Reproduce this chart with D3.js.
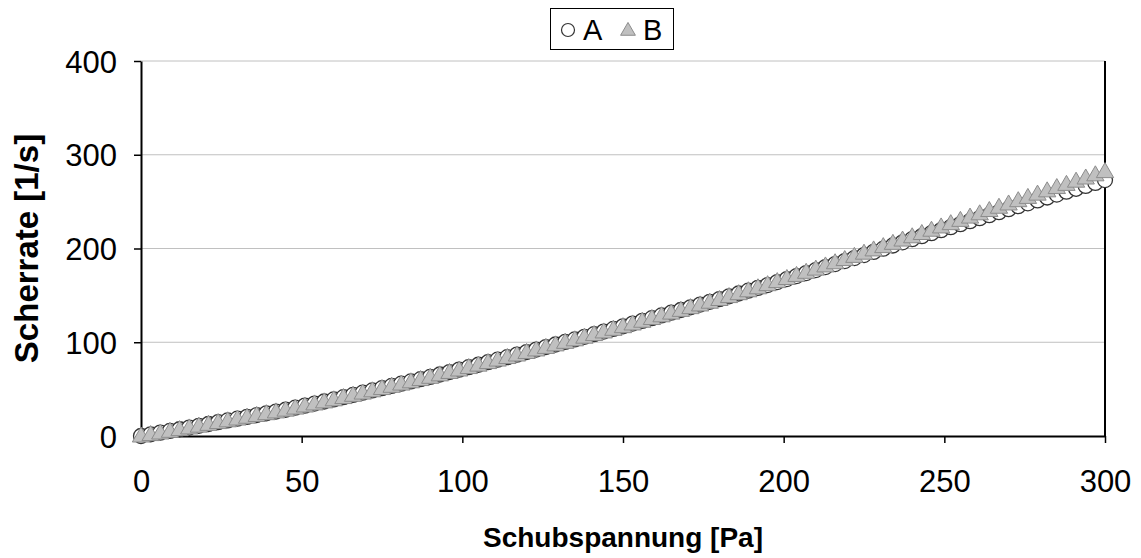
<!DOCTYPE html>
<html>
<head>
<meta charset="utf-8">
<script src="https://cdn.jsdelivr.net/npm/d3@7"></script>
<style>
  body { margin: 0; background: #fff; }
  text { font-family: "Liberation Sans", Arial, sans-serif; }
</style>
</head>
<body>
<svg id="chart"></svg>
<script>
// Schubspannung [Pa]
const stress = [
  0, 3, 6, 9, 12, 15, 18, 21, 24, 27, 30, 33, 36, 39, 42, 45, 48, 51, 54, 57,
  60, 63, 66, 69, 72, 75, 78, 81, 84, 87, 90, 93, 96, 99, 102, 105, 108, 111, 114, 117,
  120, 123, 126, 129, 132, 135, 138, 141, 144, 147, 150, 153, 156, 159, 162, 165, 168, 171, 174, 177,
  180, 183, 186, 189, 192, 195, 198, 201, 204, 207, 210, 213, 216, 219, 222, 225, 228, 231, 234, 237,
  240, 243, 246, 249, 252, 255, 258, 261, 264, 267, 270, 273, 276, 279, 282, 285, 288, 291, 294, 297,
  300
];

// Scherrate [1/s], sample A
const rateA = [
  0, 1.8, 3.6, 5.4, 7.2, 9.0, 10.9, 12.8, 14.7, 16.6, 18.5, 20.4, 22.3, 24.2, 26.1, 28.0,
  30.2, 32.4, 34.6, 36.8, 39.0, 41.4, 43.8, 46.2, 48.6, 51.0, 53.4, 55.8, 58.2, 60.6, 63.0,
  65.6, 68.2, 70.8, 73.4, 76.0, 78.7, 81.4, 84.1, 86.8, 89.5, 92.2, 94.9, 97.6, 100.3, 103.0,
  105.8, 108.6, 111.4, 114.2, 117.0, 119.9, 122.8, 125.7, 128.6, 131.5, 134.4, 137.3, 140.2, 143.1, 146.0,
  149.0, 152.0, 155.0, 158.0, 161.0, 164.2, 167.4, 170.6, 173.8, 177.0, 180.2, 183.4, 186.6, 189.8, 193.0,
  196.4, 199.8, 203.2, 206.6, 210.0, 213.2, 216.4, 219.6, 222.8, 226.0, 229.2, 232.4, 235.6, 238.8, 242.0,
  245.1, 248.2, 251.3, 254.4, 257.5, 260.6, 263.7, 266.8, 269.9, 273.0
];

// Scherrate [1/s], sample B
const rateB = [
  0, 1.5, 3.2, 5.0, 6.8, 8.6, 10.5, 12.4, 14.3, 16.2, 18.1, 20.0, 21.9, 23.8, 25.7, 27.6,
  29.8, 32.0, 34.2, 36.4, 38.6, 41.0, 43.4, 45.8, 48.2, 50.6, 53.0, 55.4, 57.8, 60.2, 62.6,
  65.2, 67.8, 70.4, 73.0, 75.6, 78.3, 81.0, 83.7, 86.4, 89.1, 91.8, 94.5, 97.2, 99.9, 102.6,
  105.4, 108.2, 111.0, 113.8, 116.6, 119.5, 122.4, 125.3, 128.2, 131.1, 134.0, 136.9, 139.8, 142.7,
  145.6, 148.7, 151.8, 154.9, 158.1, 161.4, 164.7, 168.0, 171.3, 174.6, 178.0,
  181.4, 184.8, 188.2, 191.6, 195.0, 198.5, 202.0, 205.5, 209.0, 212.5, 216.0, 219.5, 223.0, 226.5, 230.0,
  233.5, 237.0, 240.5, 244.0, 247.5, 251.0, 254.5, 258.0, 261.5, 265.0, 268.4, 271.8, 275.2, 278.6, 282.0
];

const xTicks = [0, 50, 100, 150, 200, 250, 300];
const yTicks = [0, 100, 200, 300, 400];
const seriesNames = ['A', 'B'];

const width = 1141, height = 558;
const margin = {top: 61, right: 36, bottom: 122, left: 141};
const innerW = width - margin.left - margin.right;
const innerH = height - margin.top - margin.bottom;

const svg = d3.select('#chart')
    .attr('width', width)
    .attr('height', height);

const chart = svg.append('g')
    .attr('transform', `translate(${margin.left}, ${margin.top})`);

const xscale = d3.scaleLinear().domain([0, 300]).range([0, innerW]);
const yscale = d3.scaleLinear().domain([0, 400]).range([innerH, 0]);

// gridlines
chart.append('g')
    .selectAll('line')
    .data(yTicks.filter(d => d > 0))
    .join('line')
    .attr('x1', 0)
    .attr('x2', innerW)
    .attr('y1', d => yscale(d))
    .attr('y2', d => yscale(d))
    .attr('stroke', '#c0c0c0')
    .attr('stroke-width', 1);

// right border
chart.append('line')
    .attr('x1', innerW).attr('x2', innerW)
    .attr('y1', 0).attr('y2', innerH)
    .attr('stroke', '#000')
    .attr('stroke-width', 2);

const xaxis = d3.axisBottom(xscale)
    .tickValues(xTicks)
    .tickSize(7)
    .tickPadding(27)
    .tickSizeOuter(0);

const yaxis = d3.axisLeft(yscale)
    .tickValues(yTicks)
    .tickSize(7)
    .tickPadding(17)
    .tickSizeOuter(0);

const xg = chart.append('g')
    .attr('transform', `translate(0, ${innerH})`)
    .call(xaxis);
const yg = chart.append('g').call(yaxis);

[xg, yg].forEach(g => {
    g.selectAll('path').attr('stroke', '#000').attr('stroke-width', 2);
    g.selectAll('line').attr('stroke', '#000').attr('stroke-width', 1.5);
    g.selectAll('text')
        .attr('fill', '#000')
        .style('font-size', '31px')
        .style('font-family', '"Liberation Sans", Arial, sans-serif');
});
yg.selectAll('text').attr('dy', '0.36em');

// axis titles
svg.append('text')
    .attr('x', margin.left + innerW / 2)
    .attr('y', 547)
    .attr('text-anchor', 'middle')
    .style('font-size', '28px')
    .style('font-weight', 'bold')
    .text('Schubspannung [Pa]');

svg.append('text')
    .attr('transform', 'rotate(-90)')
    .attr('x', -(margin.top + innerH / 2))
    .attr('y', 38)
    .attr('text-anchor', 'middle')
    .style('font-size', '33px')
    .style('font-weight', 'bold')
    .text('Scherrate [1/s]');

// markers
const dataA = stress.map((x, i) => ({x: x, y: rateA[i]}));
const dataB = stress.map((x, i) => ({x: x, y: rateB[i]}));

const marks = chart.append('g');

marks.selectAll('circle')
    .data(dataA)
    .join('circle')
    .attr('cx', d => xscale(d.x))
    .attr('cy', d => yscale(d.y))
    .attr('r', 7.5)
    .attr('fill', '#fff')
    .attr('stroke', '#333')
    .attr('stroke-width', 1.3);

const tri = d3.symbol().type(d3.symbolTriangle).size(130);

marks.selectAll('path.tri')
    .data(dataB)
    .join('path')
    .attr('class', 'tri')
    .attr('d', tri)
    .attr('transform', d => `translate(${xscale(d.x)}, ${yscale(d.y) + 1})`)
    .attr('fill', '#c0c0c0')
    .attr('stroke', '#8c8c8c')
    .attr('stroke-width', 1);

// legend
const legend = svg.append('g');
legend.append('rect')
    .attr('x', 550.5).attr('y', 8.5)
    .attr('width', 123).attr('height', 41)
    .attr('fill', '#fff')
    .attr('stroke', '#000')
    .attr('stroke-width', 1);

legend.append('circle')
    .attr('cx', 568).attr('cy', 30)
    .attr('r', 6.5)
    .attr('fill', '#fff')
    .attr('stroke', '#333')
    .attr('stroke-width', 1.2);

legend.append('path')
    .attr('d', d3.symbol().type(d3.symbolTriangle).size(95))
    .attr('transform', 'translate(628, 31)')
    .attr('fill', '#c0c0c0')
    .attr('stroke', '#8c8c8c');

legend.selectAll('text')
    .data(seriesNames)
    .join('text')
    .attr('x', (d, i) => i === 0 ? 583 : 643)
    .attr('y', 40)
    .style('font-size', '29px')
    .text(d => d);
</script>
</body>
</html>
